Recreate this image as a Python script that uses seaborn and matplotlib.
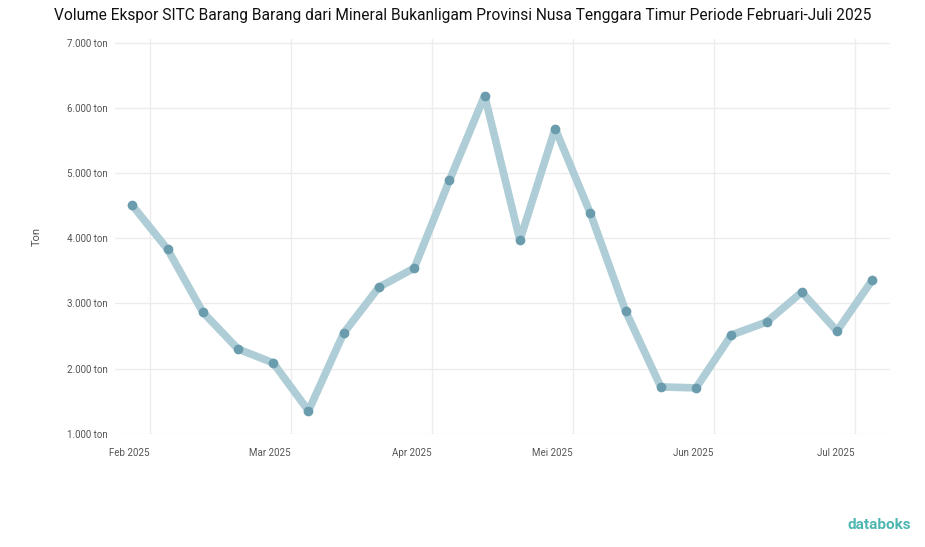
import pandas as pd
import matplotlib.pyplot as plt
import seaborn as sns

# Data (perkiraan)
minggu = list(range(22))
volume_ton = [4505, 3832, 2867, 2301, 2087, 1352, 2546, 3250, 3541, 4888, 6189,
              3970, 5684, 4383, 2883, 1719, 1704, 2515, 2714, 3173, 2577, 3357]
label_bulan = ['Feb 2025', 'Mar 2025', 'Apr 2025', 'Mei 2025', 'Jun 2025', 'Jul 2025']
posisi_bulan = [0.5, 4.5, 8.5, 12.5, 16.5, 20.5]
yticks = [1000, 2000, 3000, 4000, 5000, 6000, 7000]

df = pd.DataFrame({'minggu': minggu, 'volume': volume_ton})

sns.set_theme(style='white')
plt.rcParams['font.family'] = ['Roboto', 'DejaVu Sans']

fig = plt.figure(figsize=(9.25, 5.47), dpi=100)
ax = fig.add_axes([0.124, 0.207, 0.838, 0.722])

sns.lineplot(data=df, x='minggu', y='volume', ax=ax, color='#aecdd6', linewidth=5.5,
             marker='o', markersize=7, markerfacecolor='#6a9cad', markeredgewidth=0)

ax.set_xlim(-0.5, 21.5)
ax.set_ylim(1000, 7060)
ax.set_yticks(yticks)
ax.set_yticklabels([f'{v:,}'.replace(',', '.') + ' ton' for v in yticks], fontsize=7, color='#555555')
ax.set_xticks(posisi_bulan)
ax.set_xticklabels(label_bulan, fontsize=7, color='#555555', ha='right')
ax.tick_params(axis='x', length=0, pad=10)
ax.tick_params(axis='y', length=0, pad=5)
ax.grid(True, color='#ececec', linewidth=1)
for s in ax.spines.values():
    s.set_visible(False)
ax.set_xlabel('')
ax.set_ylabel('Ton', fontsize=8, color='#555555', labelpad=18)

fig.suptitle('Volume Ekspor SITC Barang Barang dari Mineral Bukanligam Provinsi Nusa Tenggara Timur Periode Februari-Juli 2025',
             x=0.5, y=0.985, fontsize=11.2, color='#111111')
fig.text(0.985, 0.04, 'databoks', ha='right', va='center', fontsize=11, color='#4db6b0', fontweight='bold')

plt.savefig('out.png', dpi=100)
